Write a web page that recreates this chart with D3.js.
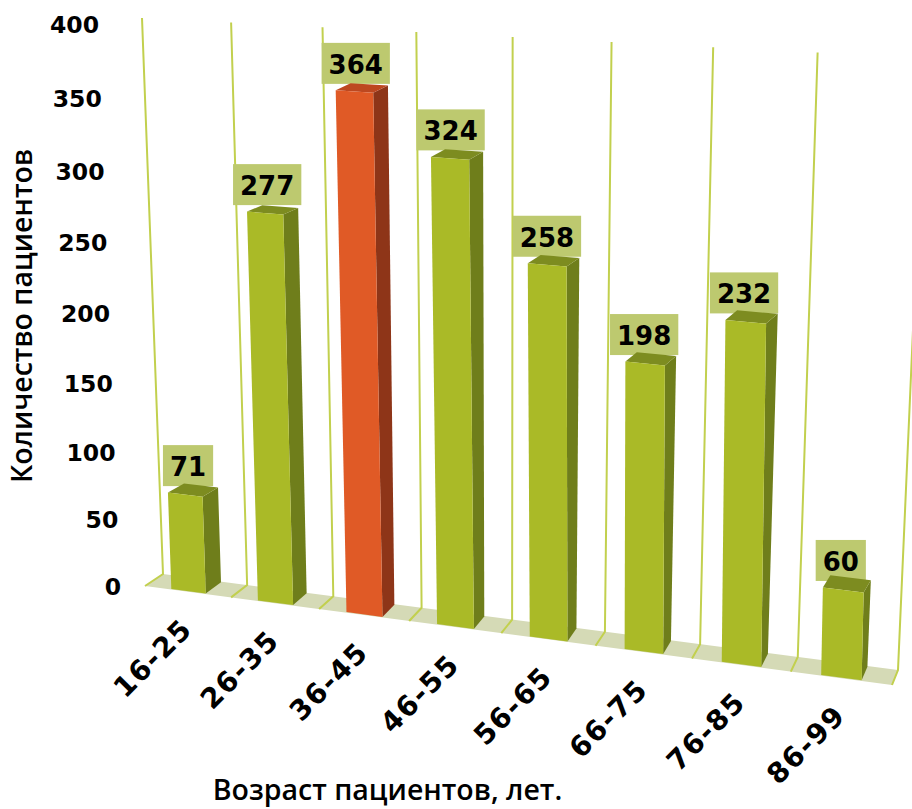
<!DOCTYPE html>
<html>
<head>
<meta charset="utf-8">
<script src="https://cdn.jsdelivr.net/npm/d3@7"></script>
<style>
  html, body { margin: 0; padding: 0; background: #fff; }
  svg { display: block; }
  text { font-family: "DejaVu Sans", sans-serif; fill: #000; }
</style>
</head>
<body>
<div id="chart"></div>
<script>
const ageGroups = ["16-25", "26-35", "36-45", "46-55", "56-65", "66-75", "76-85", "86-99"];
const patients = [71, 277, 364, 324, 258, 198, 232, 60];
const highlighted = ["36-45"];
const yTicks = [0, 50, 100, 150, 200, 250, 300, 350, 400];

const width = 912, height = 809;

// corners of the back wall and of the front plane: bottom-left, bottom-right, top-right, top-left
const wallQuad = [[163, 574], [898, 670], [925, 58], [142, 18]];
const frontQuad = [[145, 586], [892, 685], [907, 71], [124, 24]];

// unit square -> quad
function homography(q) {
    const [[x0, y0], [x1, y1], [x2, y2], [x3, y3]] = q;
    const dx1 = x1 - x2, dx2 = x3 - x2, sx = x0 - x1 + x2 - x3;
    const dy1 = y1 - y2, dy2 = y3 - y2, sy = y0 - y1 + y2 - y3;
    const den = dx1 * dy2 - dx2 * dy1;
    const g = (sx * dy2 - dx2 * sy) / den;
    const h = (dx1 * sy - sx * dy1) / den;
    const a = x1 - x0 + g * x1, b = x3 - x0 + h * x3;
    const d = y1 - y0 + g * y1, e = y3 - y0 + h * y3;
    return (u, v) => {
        const w = g * u + h * v + 1;
        return [(a * u + b * v + x0) / w, (d * u + e * v + y0) / w];
    };
}

const wall = homography(wallQuad);
const front = homography(frontQuad);

// u along the categories, v up the value axis, depth 0 = wall, 1 = front edge
function project(u, v, depth) {
    return d3.interpolate(wall(u, v), front(u, v))(depth);
}

const x = d3.scaleBand()
    .domain(ageGroups)
    .range([0, 1])
    .paddingInner(0.6)
    .paddingOuter(0.3);

const y = d3.scaleLinear().domain([0, 400]).range([0, 1]);

const svg = d3.select("#chart")
    .append("svg")
    .attr("width", width)
    .attr("height", height);

const poly = pts => pts.map(p => p.join(",")).join(" ");

// Floor
svg.append("polygon")
    .attr("points", poly([project(0, 0, 0), project(1, 0, 0), project(1, 0, 1), project(0, 0, 1)]))
    .attr("fill", "#d5dab6");

// Grid lines between categories
const edges = d3.range(ageGroups.length + 1).map(i => i / ageGroups.length);
svg.append("g").selectAll("polyline")
    .data(edges)
    .enter()
    .append("polyline")
    .attr("points", d => poly([project(d, 1, 0), project(d, 0, 0), project(d, 0, 1)]))
    .attr("fill", "none")
    .attr("stroke", "#c2d04e")
    .attr("stroke-width", 2);

// Value axis: labels drift right going down, following the wall
const yPixel = d3.scaleLinear().domain([0, 100, 200, 300, 400]).range([594.5, 460.5, 321.5, 179.5, 32.5]);
const tickRight = d3.scaleLinear().domain([0, 400]).range([121, 99]);
svg.append("g")
    .call(d3.axisLeft(yPixel).tickValues(yTicks).tickSize(0).tickFormat(d3.format("d")))
    .call(g => g.select(".domain").remove())
    .selectAll(".tick text")
    .attr("x", d => tickRight(d))
    .attr("dy", 0)
    .attr("text-anchor", "end")
    .style("font-family", '"DejaVu Sans", sans-serif')
    .style("font-size", "23.5px")
    .style("font-weight", "bold");

// Bars with their value labels
const depthFront = 0.96, depthBack = 0.04;
const labelShift = d3.scaleLinear().domain([0, 1]).range([3, -3]);
const bars = svg.append("g").selectAll("g")
    .data(ageGroups.map((age, i) => ({ age, value: patients[i] })))
    .enter()
    .append("g");

bars.each(function(d) {
    const g = d3.select(this);
    const u0 = x(d.age), u1 = x(d.age) + x.bandwidth(), v = y(d.value);
    const red = highlighted.includes(d.age);

    const ftl = project(u0, v, depthFront), ftr = project(u1, v, depthFront);
    const fbl = project(u0, 0, depthFront), fbr = project(u1, 0, depthFront);
    const btl = project(u0, v, depthBack), btr = project(u1, v, depthBack);
    const bbr = project(u1, 0, depthBack);

    // label box sits behind the bar top
    const cx = (ftl[0] + ftr[0]) / 2 + labelShift(u0);
    const boxBottom = ftl[1] - 6.5;
    const label = g.append("text")
        .attr("x", cx)
        .attr("y", boxBottom - 10)
        .attr("text-anchor", "middle")
        .style("font-size", "26px")
        .style("font-weight", "bold")
        .text(d.value);
    const box = label.node().getBBox();
    g.insert("rect", "text")
        .attr("x", cx - box.width / 2 - 7)
        .attr("y", boxBottom - 41)
        .attr("width", box.width + 14)
        .attr("height", 41)
        .attr("fill", "#bdc96f");

    g.append("polygon").attr("points", poly([ftr, fbr, bbr, btr]))
        .attr("fill", red ? "#8e3518" : "#6f7e1b");
    g.append("polygon").attr("points", poly([ftl, ftr, btr, btl]))
        .attr("fill", red ? "#bd4820" : "#7d8c20");
    g.append("polygon").attr("points", poly([ftl, ftr, fbr, fbl]))
        .attr("fill", red ? "#e05a26" : "#aaba27");
});

// Category labels
svg.append("g").selectAll("text")
    .data(ageGroups)
    .enter()
    .append("text")
    .attr("transform", d => {
        const p = project(x(d) + x.bandwidth() / 2, 0, 1);
        return `translate(${p[0] + 6},${p[1] + 39}) rotate(-45)`;
    })
    .attr("text-anchor", "end")
    .style("font-size", "28px")
    .style("font-weight", "bold")
    .style("letter-spacing", "1.5px")
    .text(d => d);

// Axis titles
svg.append("text")
    .attr("transform", "translate(32,316) rotate(-90)")
    .attr("text-anchor", "middle")
    .style("font-family", '"Open Sans", sans-serif')
    .style("font-size", "28.5px")
    .style("font-weight", 600)
    .text("Количество пациентов");

svg.append("text")
    .attr("x", 387.5)
    .attr("y", 800)
    .attr("text-anchor", "middle")
    .style("font-family", '"Open Sans", sans-serif')
    .style("font-size", "28.5px")
    .style("font-weight", 600)
    .text("Возраст пациентов, лет.");
</script>
</body>
</html>
